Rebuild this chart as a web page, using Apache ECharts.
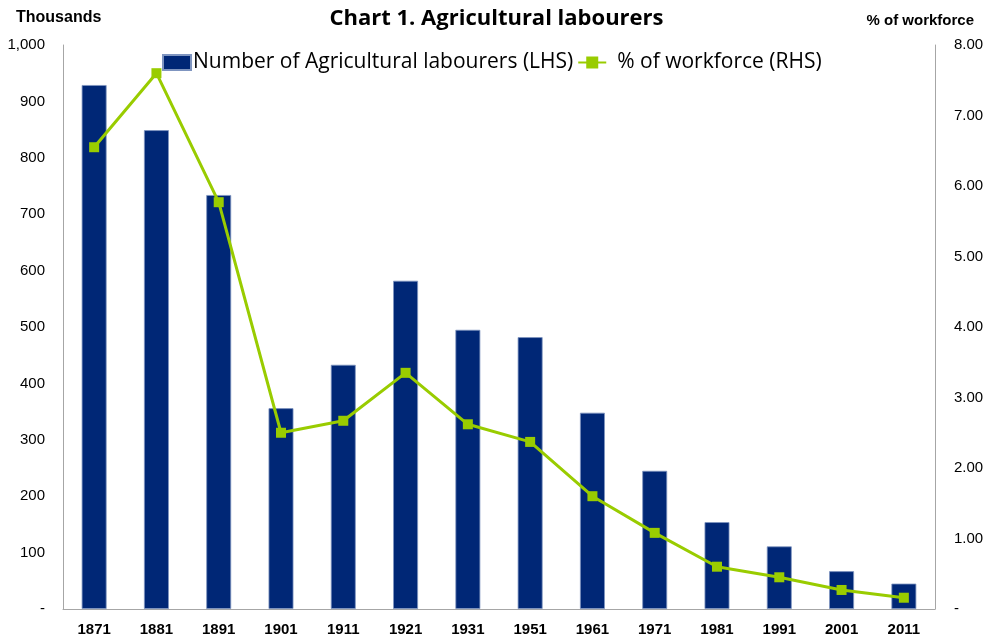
<!DOCTYPE html>
<html>
<head>
<meta charset="utf-8">
<script src="https://cdn.jsdelivr.net/npm/echarts@6/dist/echarts.min.js"></script>
<style>
  html, body { margin: 0; padding: 0; background: #fff; }
  #chart { width: 993px; height: 641px; }
</style>
</head>
<body>
<div id="chart"></div>
<script>
// census years
const years = ['1871', '1881', '1891', '1901', '1911', '1921', '1931', '1951', '1961', '1971', '1981', '1991', '2001', '2011']
// thousands of agricultural labourers (LHS)
const labourers = [929, 849, 734, 356, 433, 582, 495, 482, 348, 245, 154, 111, 67, 45]
// share of workforce, % (RHS)
const workforcePct = [6.55, 7.60, 5.77, 2.50, 2.67, 3.35, 2.62, 2.37, 1.60, 1.08, 0.60, 0.45, 0.27, 0.16]

const navy = '#002776'
const green = '#99CC00'
const axisGrey = '#A6A6A6'

const chart = echarts.init(document.getElementById('chart'))
chart.setOption({
  animation: false,
  title: [{
    text: 'Chart 1. Agricultural labourers',
    left: 'center',
    top: 3,
    textStyle: { fontFamily: 'Open Sans', fontSize: 22, fontWeight: 'bold', color: '#000' }
  }, {
    text: 'Thousands',
    left: 11,
    top: 5,
    textStyle: { fontFamily: 'Liberation Sans', fontSize: 16, fontWeight: 'bold', color: '#000' }
  }, {
    text: '% of workforce',
    right: 14,
    top: 8,
    textStyle: { fontFamily: 'Liberation Sans', fontSize: 15, fontWeight: 'bold', color: '#000' }
  }],
  legend: {
    left: 157,
    top: 47,
    itemGap: 4,
    itemWidth: 28,
    itemHeight: 15,
    textStyle: { fontFamily: 'Open Sans', fontSize: 21, color: '#000', padding: [0, 0, 0, -3] },
    data: [
      { name: 'Number of Agricultural labourers (LHS)', icon: 'rect' },
      { name: '% of workforce (RHS)', textStyle: { padding: [0, 0, 0, 6] } }
    ]
  },
  grid: { left: 63, right: 58, top: 45, bottom: 32 },
  xAxis: {
    type: 'category',
    data: years,
    axisLine: { lineStyle: { color: axisGrey } },
    axisTick: { show: false },
    axisLabel: { fontFamily: 'Liberation Sans', fontSize: 15, fontWeight: 'bold', color: '#000', margin: 13 }
  },
  yAxis: [{
    type: 'value',
    min: 0,
    max: 1000,
    interval: 100,
    splitLine: { show: false },
    axisLine: { show: true, lineStyle: { color: axisGrey } },
    axisTick: { show: false },
    axisLabel: {
      fontFamily: 'Liberation Sans', fontSize: 15, color: '#000', margin: 18,
      formatter: v => v === 0 ? '-' : v.toLocaleString('en-US')
    }
  }, {
    type: 'value',
    min: 0,
    max: 8,
    interval: 1,
    splitLine: { show: false },
    axisLine: { show: true, lineStyle: { color: axisGrey } },
    axisTick: { show: false },
    axisLabel: {
      fontFamily: 'Liberation Sans', fontSize: 15, color: '#000', margin: 19,
      formatter: v => v === 0 ? '-' : v.toFixed(2)
    }
  }],
  series: [{
    name: 'Number of Agricultural labourers (LHS)',
    type: 'bar',
    barWidth: '40%',
    itemStyle: { color: navy, borderColor: '#7F95C0', borderWidth: 0.8 },
    data: labourers
  }, {
    name: '% of workforce (RHS)',
    type: 'line',
    yAxisIndex: 1,
    symbol: 'rect',
    symbolSize: 10,
    lineStyle: { color: green, width: 3 },
    itemStyle: { color: green },
    data: workforcePct
  }]
})
</script>
</body>
</html>
